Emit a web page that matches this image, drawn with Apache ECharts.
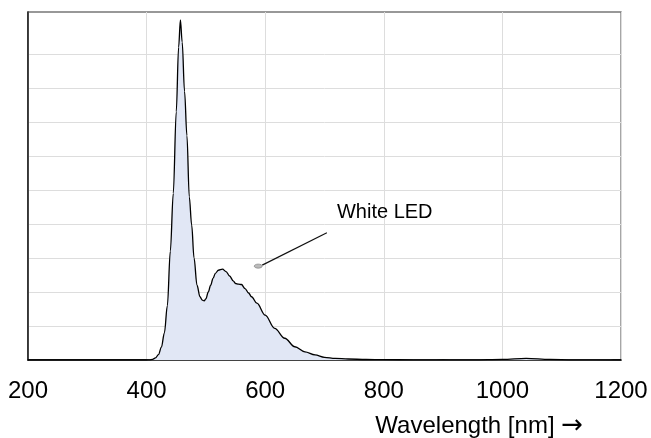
<!DOCTYPE html>
<html>
<head>
<meta charset="utf-8">
<script src="https://cdn.jsdelivr.net/npm/echarts@6/dist/echarts.min.js"></script>
<style>
html,body{margin:0;padding:0;background:#fff;}
#c{width:651px;height:438px;}
</style>
</head>
<body>
<div id="c"></div>
<script>
// Wavelength (nm)
var wavelengths = [200, 300, 400, 405, 410, 415, 420, 425, 430, 435, 440, 445, 450, 454, 457, 460, 464, 468, 472, 476, 480, 485, 490, 494, 497, 500, 504, 508, 512, 516, 521, 528, 534, 540, 546, 550, 555, 560, 566, 572, 577, 586, 600, 616, 633, 650, 667, 684, 700, 718, 740, 770, 800, 850, 900, 950, 1000, 1040, 1080, 1120, 1200];
// Relative intensity (arbitrary units)
var intensity = [0, 0, 0, 0.005, 0.02, 0.06, 0.16, 0.38, 0.8, 1.6, 3.2, 4.9, 7.3, 9.2, 10.0, 9.35, 7.9, 6.6, 4.8, 3.97, 3.0, 2.2, 1.86, 1.76, 1.74, 1.8, 2.0, 2.2, 2.4, 2.55, 2.64, 2.67, 2.6, 2.47, 2.33, 2.25, 2.23, 2.22, 2.1, 1.97, 1.86, 1.67, 1.32, 0.93, 0.64, 0.39, 0.24, 0.15, 0.08, 0.05, 0.03, 0.015, 0.01, 0.005, 0.003, 0.005, 0.02, 0.05, 0.02, 0.005, 0];
var xTicks = [200, 400, 600, 800, 1000, 1200];
var yGridValues = [0, 1, 2, 3, 4, 5, 6, 7, 8, 9];
var seriesName = 'White LED';
var xTitleText = 'Wavelength [nm] ';
var xTitleArrow = '\u2192';
// annotation anchor points in data space
var labelPoint = [721, 4.35];
var leaderStart = [704, 3.74];
var leaderEnd = [595, 2.79];

var data = wavelengths.map(function (w, i) { return [w, intensity[i]]; });

var chart = echarts.init(document.getElementById('c'), null, {renderer: 'canvas'});
var font = 'Arial, "Liberation Sans", Helvetica, sans-serif';
chart.setOption({
  animation: false,
  grid: {left: 28, right: 30, top: 12, bottom: 78, show: true, borderColor: '#777', borderWidth: 1.3, backgroundColor: 'transparent'},
  xAxis: {
    type: 'value', min: 200, max: 1200, interval: 200,
    axisLine: {show: true, lineStyle: {color: '#111', width: 1.6}},
    axisTick: {show: false, customValues: xTicks},
    axisLabel: {color: '#000', fontSize: 24, fontFamily: font, margin: 19, showMinLabel: true, showMaxLabel: true,
      customValues: xTicks, formatter: function (v) { return String(v); }},
    splitLine: {show: true, lineStyle: {color: '#dddddd', width: 1}}
  },
  yAxis: {
    type: 'value', min: 0, max: 10.235, interval: 1,
    axisLine: {show: true, lineStyle: {color: '#111', width: 1.5}},
    axisTick: {show: false, customValues: yGridValues},
    axisLabel: {show: false},
    splitLine: {show: true, lineStyle: {color: '#dddddd', width: 1}}
  },
  series: [{
    type: 'line', name: seriesName, data: data,
    smooth: 0.35, smoothMonotone: 'x', showSymbol: false,
    lineStyle: {color: '#000', width: 1.3},
    areaStyle: {color: '#e1e7f5', opacity: 1}
  }]
});

var pL = chart.convertToPixel({gridIndex: 0}, labelPoint);
var pS = chart.convertToPixel({gridIndex: 0}, leaderStart);
var pE = chart.convertToPixel({gridIndex: 0}, leaderEnd);
chart.setOption({
  graphic: [
    {type: 'line', shape: {x1: pS[0], y1: pS[1], x2: pE[0], y2: pE[1]}, style: {stroke: '#111', lineWidth: 1.2}, z: 100},
    {type: 'ellipse', shape: {cx: pE[0] - 4, cy: pE[1] + 1, rx: 4, ry: 2}, style: {fill: '#bbb', stroke: '#888', lineWidth: 0.8}, z: 100},
    {type: 'text', x: pL[0], y: pL[1], style: {text: seriesName, fill: '#000', font: '20px ' + font, textAlign: 'left', textVerticalAlign: 'middle'}, z: 100},
    {type: 'text', x: 583, y: 426, style: {
      text: '{a|' + xTitleText + '}{b|' + xTitleArrow + '}',
      textAlign: 'right', textVerticalAlign: 'middle',
      rich: {
        a: {fontSize: 24, fontFamily: font, fill: '#000', color: '#000'},
        b: {fontSize: 26, fontFamily: '"Noto Sans", "DejaVu Sans", sans-serif', fill: '#000', color: '#000'}
      }
    }, z: 100}
  ]
});
</script>
</body>
</html>
